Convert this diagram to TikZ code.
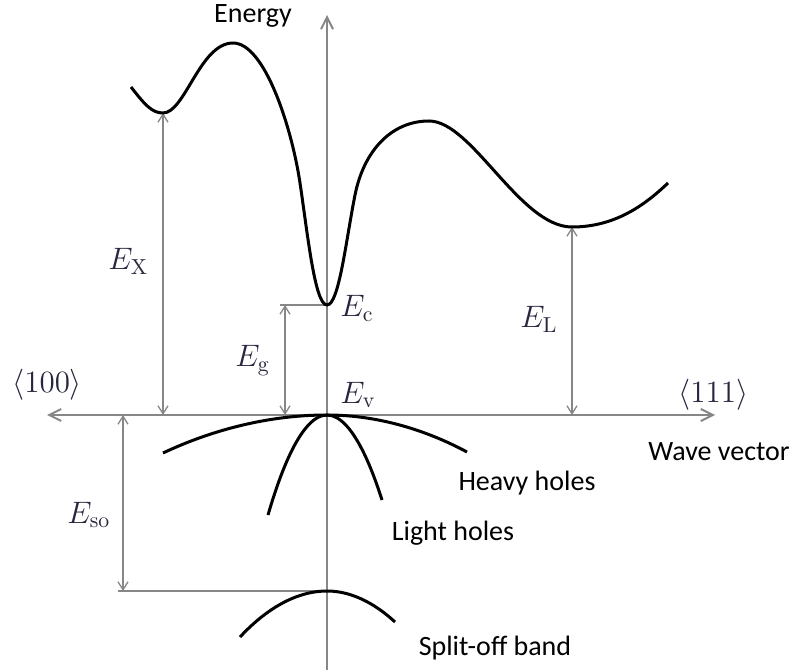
\documentclass[tikz,border=0pt]{standalone}
\usepackage{fix-cm}
\usepackage{fontspec}
\newfontfamily\calfont{Carlito}
\usepackage{xcolor}
\usetikzlibrary{arrows.meta}
\definecolor{axisgray}{RGB}{135,135,135}
\definecolor{labelink}{RGB}{38,38,62}

\begin{document}
\begin{tikzpicture}[x=0.5pt,y=-0.5pt,
    axis/.style={draw=axisgray, line width=1pt},
    dim/.style={draw=axisgray, line width=0.65pt, {Straight Barb[length=4pt,width=5pt]}-{Straight Barb[length=4pt,width=5pt]}},
    level/.style={draw=axisgray, line width=0.65pt},
    band/.style={draw=black, line width=1.5pt},
    mlabel/.style={font=\fontsize{15.5}{18}\selectfont, text=labelink, inner sep=0pt},
    wlabel/.style={font=\calfont\fontsize{14}{17}\selectfont, inner sep=0pt}]
    \useasboundingbox (0,0) rectangle (795,672);
    \coordinate (Ev) at (327,415);
    \coordinate (top) at (327,15);
    \coordinate (bot) at (327,670);
    \coordinate (k100) at (47,415);
    \coordinate (k111) at (715,415);
    \coordinate (Xmin) at (163,113);
    \coordinate (Xax) at (163,415);
    \coordinate (Ec) at (327,305);
    \coordinate (EcL) at (280,305);
    \coordinate (Gtop) at (285,305);
    \coordinate (Gax) at (285,415);
    \coordinate (Lmin) at (572,227);
    \coordinate (Lax) at (572,415);
    \coordinate (SOax) at (123,415);
    \coordinate (SOlow) at (123,591);
    \coordinate (SOL) at (118,591);
    \coordinate (SOmax) at (327,591);
    \draw[axis, {Straight Barb[length=6pt,width=6pt]}-{Straight Barb[length=6pt,width=6pt]}] (k100) -- (k111);
    \draw[axis, -{Straight Barb[length=6pt,width=6pt]}] (bot) -- (top);
    \draw[level] (EcL) -- (Ec);
    \draw[level] (SOL) -- (SOmax);
    \draw[dim] (Xmin) -- (Xax);
    \draw[dim] (Gtop) -- (Gax);
    \draw[dim] (Lmin) -- (Lax);
    \draw[dim] (SOax) -- (SOlow);
    \draw[band] (131,87) .. controls (145,105) and (152,113) .. (Xmin)
        .. controls (185,113) and (200,43) .. (233,43)
        .. controls (265,43) and (292,129) .. (300,183)
        .. controls (308,237) and (315,305) .. (Ec)
        .. controls (339,305) and (346,240) .. (355,195)
        .. controls (364,150) and (392,121) .. (429,121)
        .. controls (472,121) and (520,227) .. (Lmin)
        .. controls (615,227) and (645,205) .. (668,183);
    \draw[band] (163,453) parabola bend (Ev) (467,452);
    \draw[band] (268,515) parabola bend (Ev) (382,500);
    \draw[band] (240,637) parabola bend (SOmax) (395,622);
    \node[mlabel, anchor=base west] (lEX) at (108,270) {$E_{\mathrm{X}}$};
    \node[mlabel, anchor=base west] (lEg) at (235,367) {$E_{\mathrm{g}}$};
    \node[mlabel, anchor=base west] (lEc) at (340,317) {$E_{\mathrm{c}}$};
    \node[mlabel, anchor=base west] (lEv) at (340,403) {$E_{\mathrm{v}}$};
    \node[mlabel, anchor=base west] (lEL) at (520,328) {$E_{\mathrm{L}}$};
    \node[mlabel, anchor=base west] (lEso) at (67,523) {$E_{\mathrm{so}}$};
    \node[mlabel, anchor=base west] (l100) at (12,393) {$\langle 100\rangle$};
    \node[mlabel, anchor=base west] (l111) at (678,402) {$\langle 111\rangle$};
    \node[wlabel, anchor=base] (energy) at (253,23) {Energy};
    \node[wlabel, anchor=base] (wave) at (719,460) {Wave vector};
    \node[wlabel, anchor=base] (heavy) at (527,490) {Heavy holes};
    \node[wlabel, anchor=base] (light) at (453,540) {Light holes};
    \node[wlabel, anchor=base] (split) at (495,655) {Split-off band};
\end{tikzpicture}
\end{document}
